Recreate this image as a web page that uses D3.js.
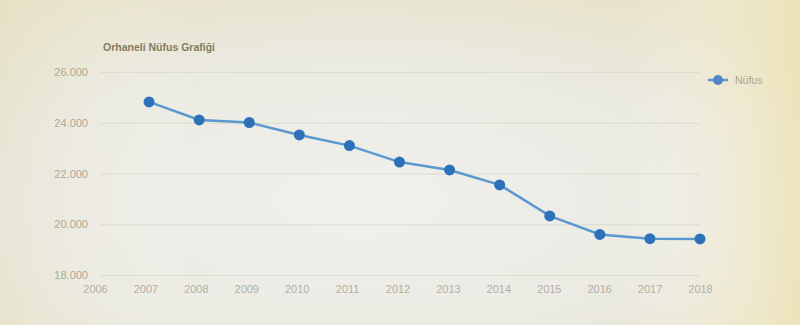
<!DOCTYPE html>
<html>
<head>
<meta charset="utf-8">
<script src="https://cdn.jsdelivr.net/npm/d3@7"></script>
<style>
  html, body { margin: 0; padding: 0; background: #ebe9dc; }
  svg { display: block; }
</style>
</head>
<body>
<svg id="chart" width="800" height="325"></svg>
<script>
// DATA
var years = [2007, 2008, 2009, 2010, 2011, 2012, 2013, 2014, 2015, 2016, 2017, 2018];
var nufus = [24820, 24110, 24010, 23520, 23100, 22450, 22140, 21550, 20330, 19600, 19430, 19420];
var yTicks = [18000, 20000, 22000, 24000, 26000];
var xTicks = [2006, 2007, 2008, 2009, 2010, 2011, 2012, 2013, 2014, 2015, 2016, 2017, 2018];
var title = "Orhaneli Nüfus Grafiği";
var seriesName = "Nüfus";

var svg = d3.select("#chart");
var W = 800, H = 325;

// BACKGROUND (photo of a screen: cream edges, lighter middle)
var defs = svg.append("defs");
var rad = defs.append("radialGradient").attr("id", "bgRad")
  .attr("cx", "45%").attr("cy", "62%").attr("r", "72%");
rad.append("stop").attr("offset", "0%").attr("stop-color", "#f0f0ed");
rad.append("stop").attr("offset", "60%").attr("stop-color", "#ebeae2");
rad.append("stop").attr("offset", "100%").attr("stop-color", "#e7e2c8");
var lin = defs.append("linearGradient").attr("id", "bgLin")
  .attr("x1", "0").attr("x2", "1").attr("y1", "0").attr("y2", "0");
lin.append("stop").attr("offset", "0%").attr("stop-color", "#e4dfc2").attr("stop-opacity", 0.35);
lin.append("stop").attr("offset", "25%").attr("stop-color", "#ffffff").attr("stop-opacity", 0);
lin.append("stop").attr("offset", "78%").attr("stop-color", "#ffffff").attr("stop-opacity", 0);
lin.append("stop").attr("offset", "100%").attr("stop-color", "#efe3ad").attr("stop-opacity", 0.65);
svg.append("rect").attr("width", W).attr("height", H).attr("fill", "url(#bgRad)");
svg.append("rect").attr("width", W).attr("height", H).attr("fill", "url(#bgLin)");

// SCALES
var x = d3.scaleLinear().domain([2006, 2018]).range([99, 700]);
var y = d3.scaleLinear().domain([18000, 26000]).range([275, 72]);

var fmt = function(d){ return d3.format(",")(d).replace(/,/g, "."); };

// GRIDLINES + Y AXIS
var yAxis = d3.axisLeft(y).tickValues(yTicks).tickSize(-(x.range()[1] - 100)).tickFormat(fmt).tickPadding(12);
var gy = svg.append("g").attr("transform", "translate(100,0)").call(yAxis);
gy.select(".domain").remove();
gy.selectAll(".tick line").attr("stroke", "#dcdcd0").attr("stroke-width", 1);
gy.selectAll(".tick text")
  .attr("fill", "#aba991")
  .style("font-family", "'Liberation Sans', Arial, sans-serif")
  .style("font-size", "11px");

// X AXIS
var xAxis = d3.axisBottom(x).tickValues(xTicks).tickFormat(d3.format("d")).tickSize(0).tickPadding(10);
var gx = svg.append("g").attr("transform", "translate(0,275)").call(xAxis);
gx.select(".domain").remove();
gx.selectAll(".tick text")
  .attr("dx", function(d){ return -4 * (2018 - d) / 12; })
  .attr("fill", "#afafa6")
  .style("font-family", "'Liberation Sans', Arial, sans-serif")
  .style("font-size", "11px");

// TITLE
svg.append("text").attr("x", 103).attr("y", 51).text(title)
  .attr("fill", "#7f7d5c")
  .style("font-family", "'Liberation Sans', Arial, sans-serif")
  .style("font-weight", "bold")
  .style("font-size", "10.5px");

// LINE + POINTS
var line = d3.line()
  .x(function(d, i){ return x(years[i]); })
  .y(function(d){ return y(d); });

svg.append("path").datum(nufus)
  .attr("d", line)
  .attr("fill", "none")
  .attr("stroke", "#5a98d0")
  .attr("stroke-width", 2.5);

svg.append("g").selectAll("circle").data(nufus)
  .enter().append("circle")
  .attr("cx", function(d, i){ return x(years[i]); })
  .attr("cy", function(d){ return y(d); })
  .attr("r", 5.5)
  .attr("fill", "#2d72b8");

// LEGEND
var lg = svg.append("g").attr("transform", "translate(708,80)");
lg.append("line").attr("x1", 0).attr("x2", 20).attr("y1", 0).attr("y2", 0)
  .attr("stroke", "#5a98d0").attr("stroke-width", 2.5);
lg.append("circle").attr("cx", 10).attr("cy", 0).attr("r", 5).attr("fill", "#4f88c2");
lg.append("text").attr("x", 27).attr("y", 4).text(seriesName)
  .attr("fill", "#a8a68e")
  .style("font-family", "'Liberation Sans', Arial, sans-serif")
  .style("font-size", "10.5px");
</script>
</body>
</html>
